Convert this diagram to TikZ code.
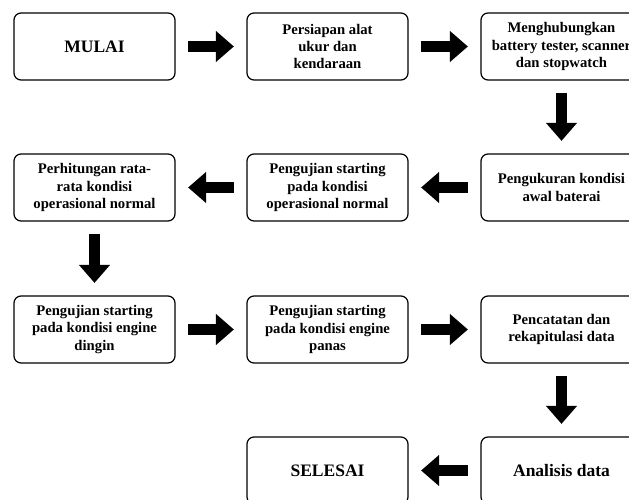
\documentclass[tikz,border=0pt]{standalone}
\usepackage{fontspec}
\setmainfont{Liberation Serif}
\usetikzlibrary{arrows.meta}

\begin{document}
\begin{tikzpicture}[x=1pt, y=1pt,
	langkah/.style={draw, line width=1.2pt, rounded corners=7pt, minimum width=161pt, minimum height=67pt, inner sep=0pt, align=center, font=\bfseries\fontsize{14.7}{17.3}\selectfont},
	besar/.style={font=\bfseries\fontsize{17.5}{20}\selectfont},
	panah/.style={line width=11pt, -{Triangle[length=18pt, width=30pt]}, shorten <=12.5pt, shorten >=12.5pt}]
	
	% Canvas size of the reference
	\path[use as bounding box] (0,0) rectangle (629,500);
	
	% Column and row centres
	\def\ka{94.5} \def\kb{327.5} \def\kc{561.5}
	\def\ba{453.5} \def\bb{312.5} \def\bc{170.5} \def\bd{29.5}
	
	% Row 1
	\node[langkah, besar] (mulai) at (\ka, \ba) {MULAI};
	\node[langkah] (persiapan) at (\kb, \ba) {Persiapan alat\\ukur dan\\kendaraan};
	\node[langkah] (hubung) at (\kc, \ba) {Menghubungkan\\battery tester, scanner\\dan stopwatch};
	
	% Row 2
	\node[langkah] (ukur) at (\kc, \bb) {Pengukuran kondisi\\awal baterai};
	\node[langkah] (normal) at (\kb, \bb) {Pengujian starting\\pada kondisi\\operasional normal};
	\node[langkah] (rata) at (\ka, \bb) {Perhitungan rata-\\rata kondisi\\operasional normal};
	
	% Row 3
	\node[langkah] (dingin) at (\ka, \bc) {Pengujian starting\\pada kondisi engine\\dingin};
	\node[langkah] (panas) at (\kb, \bc) {Pengujian starting\\pada kondisi engine\\panas};
	\node[langkah] (catat) at (\kc, \bc) {Pencatatan dan\\rekapitulasi data};
	
	% Row 4
	\node[langkah, besar] (analisis) at (\kc, \bd) {Analisis data};
	\node[langkah, besar] (selesai) at (\kb, \bd) {SELESAI};
	
	% Block arrows
	\draw[panah] (mulai) -- (persiapan);
	\draw[panah] (persiapan) -- (hubung);
	\draw[panah] (hubung) -- (ukur);
	\draw[panah] (ukur) -- (normal);
	\draw[panah] (normal) -- (rata);
	\draw[panah] (rata) -- (dingin);
	\draw[panah] (dingin) -- (panas);
	\draw[panah] (panas) -- (catat);
	\draw[panah] (catat) -- (analisis);
	\draw[panah] (analisis) -- (selesai);
	
\end{tikzpicture}
\end{document}
